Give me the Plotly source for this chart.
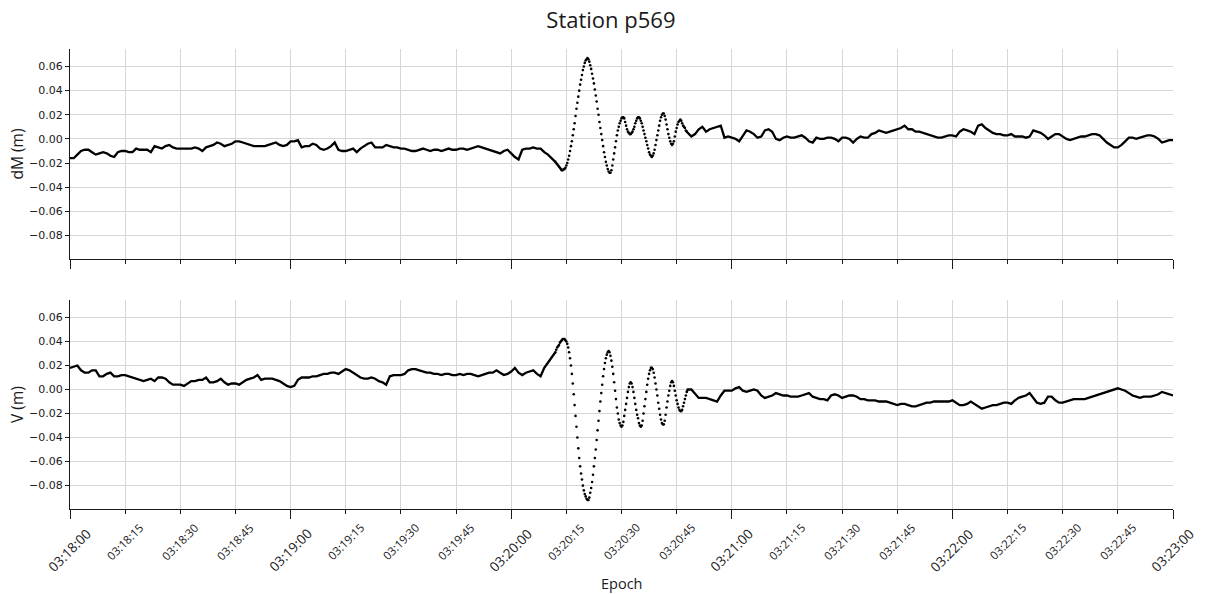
import pandas as pd
import plotly.graph_objects as go

# ---------------- data ----------------
BASE_EPOCH = "2020-01-01 03:18:00"
BEFORE_START_S = 0.0     # 1 s samples
EVENT_START_S = 132.0    # 0.25 s samples during the shaking
EVENT_STEP_S = 0.25
AFTER_START_S = 168.0    # 1 s samples

dm_before = [
    -0.016, -0.016, -0.013, -0.010, -0.009, -0.009, -0.011, -0.013, -0.012, -0.011,
    -0.012, -0.014, -0.015, -0.011, -0.010, -0.010, -0.011, -0.011, -0.008, -0.009,
    -0.009, -0.009, -0.011, -0.006, -0.007, -0.008, -0.006, -0.005, -0.007, -0.008,
    -0.008, -0.008, -0.008, -0.008, -0.007, -0.008, -0.010, -0.007, -0.006, -0.005,
    -0.003, -0.004, -0.006, -0.005, -0.004, -0.002, -0.002, -0.003, -0.004, -0.005,
    -0.006, -0.006, -0.006, -0.006, -0.005, -0.004, -0.003, -0.005, -0.006, -0.005,
    -0.002, -0.002, -0.001, -0.007, -0.006, -0.006, -0.004, -0.005, -0.008, -0.009,
    -0.008, -0.006, -0.003, -0.009, -0.010, -0.010, -0.009, -0.008, -0.011, -0.008,
    -0.006, -0.004, -0.003, -0.007, -0.007, -0.007, -0.005, -0.006, -0.007, -0.007,
    -0.008, -0.008, -0.009, -0.010, -0.010, -0.009, -0.008, -0.009, -0.010, -0.009,
    -0.009, -0.010, -0.009, -0.008, -0.009, -0.009, -0.008, -0.008, -0.009, -0.008,
    -0.007, -0.006, -0.007, -0.008, -0.009, -0.010, -0.011, -0.012, -0.010, -0.009,
    -0.012, -0.015, -0.017, -0.009, -0.008, -0.008, -0.007, -0.008, -0.008, -0.011,
    -0.013, -0.016,
]
dm_event = [
    -0.019, -0.020, -0.021, -0.022, -0.023, -0.024, -0.025, -0.026, -0.026, -0.025,
    -0.025, -0.024, -0.022, -0.020, -0.017, -0.014, -0.010, -0.006, -0.002, 0.003,
    0.008, 0.013, 0.019, 0.025, 0.030, 0.035, 0.040, 0.045, 0.049, 0.053,
    0.057, 0.060, 0.063, 0.065, 0.066, 0.067, 0.066, 0.064, 0.061, 0.058,
    0.054, 0.050, 0.046, 0.041, 0.036, 0.031, 0.025, 0.020, 0.014, 0.009,
    0.004, -0.001, -0.006, -0.011, -0.015, -0.019, -0.022, -0.025, -0.027, -0.028,
    -0.028, -0.026, -0.022, -0.017, -0.012, -0.007, -0.002, 0.003, 0.007, 0.010,
    0.013, 0.015, 0.017, 0.018, 0.018, 0.017, 0.014, 0.011, 0.008, 0.006,
    0.005, 0.004, 0.004, 0.005, 0.006, 0.008, 0.010, 0.013, 0.015, 0.017,
    0.018, 0.018, 0.017, 0.015, 0.013, 0.010, 0.007, 0.004, 0.001, -0.002,
    -0.005, -0.008, -0.011, -0.013, -0.014, -0.015, -0.014, -0.012, -0.009, -0.005,
    -0.001, 0.003, 0.007, 0.011, 0.015, 0.018, 0.020, 0.021, 0.021, 0.019,
    0.016, 0.012, 0.008, 0.004, 0.001, -0.002, -0.004, -0.005, -0.004, -0.002,
    0.002, 0.006, 0.009, 0.012, 0.014, 0.015, 0.016, 0.015, 0.013, 0.011,
    0.010, 0.009, 0.007, 0.006,
]
dm_after = [
    0.005, 0.002, 0.004, 0.008, 0.010, 0.006, 0.008, 0.009, 0.010, 0.011,
    0.001, 0.002, 0.001, 0.000, -0.002, 0.003, 0.007, 0.006, 0.004, 0.001,
    0.002, 0.007, 0.008, 0.006, 0.000, -0.001, 0.001, 0.002, 0.001, 0.001,
    0.002, 0.003, 0.001, -0.002, -0.003, 0.001, 0.000, 0.000, 0.001, 0.001,
    0.000, -0.002, 0.001, 0.001, 0.000, -0.003, 0.000, 0.002, 0.001, 0.001,
    0.004, 0.005, 0.007, 0.006, 0.005, 0.006, 0.007, 0.008, 0.009, 0.011,
    0.008, 0.008, 0.006, 0.006, 0.005, 0.004, 0.003, 0.002, 0.001, 0.001,
    0.002, 0.003, 0.003, 0.002, 0.006, 0.008, 0.007, 0.006, 0.004, 0.011,
    0.012, 0.009, 0.007, 0.005, 0.004, 0.004, 0.003, 0.003, 0.004, 0.002,
    0.002, 0.002, 0.001, 0.002, 0.007, 0.006, 0.005, 0.003, 0.000, 0.002,
    0.004, 0.004, 0.002, 0.000, -0.001, 0.000, 0.001, 0.002, 0.002, 0.003,
    0.004, 0.004, 0.003, 0.000, -0.003, -0.005, -0.007, -0.007, -0.005, -0.002,
    0.001, 0.001, 0.000, 0.001, 0.002, 0.003, 0.003, 0.002, 0.000, -0.003,
    -0.002, -0.001, -0.001,
]

v_before = [
    0.018, 0.019, 0.020, 0.016, 0.014, 0.014, 0.016, 0.016, 0.011, 0.011,
    0.013, 0.014, 0.011, 0.011, 0.012, 0.012, 0.011, 0.010, 0.009, 0.008,
    0.007, 0.008, 0.009, 0.007, 0.010, 0.010, 0.009, 0.006, 0.004, 0.004,
    0.004, 0.003, 0.005, 0.007, 0.007, 0.008, 0.008, 0.010, 0.006, 0.006,
    0.007, 0.009, 0.006, 0.004, 0.005, 0.005, 0.004, 0.006, 0.008, 0.009,
    0.010, 0.012, 0.008, 0.009, 0.009, 0.009, 0.008, 0.007, 0.005, 0.003,
    0.002, 0.003, 0.008, 0.010, 0.010, 0.010, 0.011, 0.011, 0.012, 0.013,
    0.013, 0.014, 0.014, 0.013, 0.015, 0.017, 0.016, 0.014, 0.012, 0.010,
    0.009, 0.009, 0.010, 0.009, 0.007, 0.006, 0.004, 0.011, 0.012, 0.012,
    0.012, 0.013, 0.016, 0.017, 0.017, 0.016, 0.015, 0.014, 0.014, 0.013,
    0.013, 0.012, 0.013, 0.013, 0.012, 0.012, 0.013, 0.012, 0.013, 0.013,
    0.012, 0.011, 0.012, 0.013, 0.014, 0.014, 0.016, 0.014, 0.012, 0.013,
    0.015, 0.018, 0.014, 0.012, 0.014, 0.015, 0.016, 0.013, 0.011, 0.018,
    0.022, 0.027,
]
v_event = [
    0.031, 0.033, 0.035, 0.036, 0.037, 0.039, 0.040, 0.041, 0.042, 0.042,
    0.042, 0.041, 0.040, 0.038, 0.035, 0.031, 0.026, 0.020, 0.013, 0.005,
    -0.004, -0.013, -0.022, -0.031, -0.040, -0.049, -0.057, -0.064, -0.070, -0.075,
    -0.080, -0.084, -0.087, -0.089, -0.091, -0.092, -0.092, -0.090, -0.086, -0.082,
    -0.077, -0.071, -0.064, -0.057, -0.050, -0.042, -0.034, -0.026, -0.018, -0.010,
    -0.003, 0.004, 0.011, 0.017, 0.022, 0.026, 0.029, 0.031, 0.032, 0.031,
    0.028, 0.024, 0.019, 0.013, 0.006, -0.001, -0.008, -0.015, -0.020, -0.025,
    -0.028, -0.030, -0.031, -0.030, -0.027, -0.022, -0.017, -0.012, -0.007, -0.002,
    0.002, 0.005, 0.006, 0.005, 0.002, -0.002, -0.007, -0.012, -0.017, -0.021,
    -0.024, -0.028, -0.030, -0.031, -0.030, -0.026, -0.020, -0.014, -0.008, -0.002,
    0.004, 0.009, 0.013, 0.016, 0.018, 0.018, 0.017, 0.014, 0.010, 0.005,
    0.000, -0.005, -0.011, -0.016, -0.021, -0.025, -0.028, -0.029, -0.029, -0.026,
    -0.021, -0.015, -0.010, -0.005, -0.001, 0.003, 0.006, 0.007, 0.006, 0.003,
    -0.001, -0.005, -0.009, -0.012, -0.015, -0.017, -0.018, -0.018, -0.017, -0.014,
    -0.011, -0.008, -0.005, -0.002,
]
v_after = [
    0.000, 0.000, -0.004, -0.007, -0.007, -0.007, -0.008, -0.009, -0.010, -0.005,
    -0.001, -0.001, -0.001, 0.001, 0.002, -0.001, -0.002, -0.001, 0.000, -0.001,
    -0.005, -0.007, -0.006, -0.005, -0.003, -0.004, -0.005, -0.005, -0.006, -0.006,
    -0.006, -0.005, -0.004, -0.003, -0.006, -0.007, -0.008, -0.008, -0.009, -0.005,
    -0.004, -0.005, -0.007, -0.006, -0.005, -0.005, -0.006, -0.008, -0.008, -0.009,
    -0.009, -0.009, -0.010, -0.010, -0.010, -0.011, -0.012, -0.013, -0.012, -0.012,
    -0.013, -0.014, -0.014, -0.013, -0.012, -0.011, -0.011, -0.010, -0.010, -0.010,
    -0.010, -0.010, -0.009, -0.011, -0.013, -0.013, -0.012, -0.010, -0.012, -0.014,
    -0.016, -0.015, -0.014, -0.013, -0.013, -0.012, -0.011, -0.011, -0.012, -0.009,
    -0.007, -0.006, -0.005, -0.003, -0.007, -0.011, -0.012, -0.011, -0.006, -0.006,
    -0.009, -0.011, -0.011, -0.010, -0.009, -0.008, -0.008, -0.008, -0.008, -0.007,
    -0.006, -0.005, -0.004, -0.003, -0.002, -0.001, 0.000, 0.001, 0.000, -0.001,
    -0.003, -0.005, -0.006, -0.007, -0.006, -0.006, -0.006, -0.005, -0.004, -0.002,
    -0.003, -0.004, -0.005,
]

tick_seconds = [0, 15, 30, 45, 60, 75, 90, 105, 120, 135, 150, 165, 180,
                195, 210, 225, 240, 255, 270, 285, 300]
tick_labels = ["03:18:00", "03:18:15", "03:18:30", "03:18:45", "03:19:00",
               "03:19:15", "03:19:30", "03:19:45", "03:20:00", "03:20:15",
               "03:20:30", "03:20:45", "03:21:00", "03:21:15", "03:21:30",
               "03:21:45", "03:22:00", "03:22:15", "03:22:30", "03:22:45",
               "03:23:00"]
y_ticks = [-0.08, -0.06, -0.04, -0.02, 0.00, 0.02, 0.04, 0.06]
y_tick_labels = ["\u22120.08", "\u22120.06", "\u22120.04", "\u22120.02",
                 "0.00", "0.02", "0.04", "0.06"]
Y_RANGE = [-0.0995, 0.0745]

# ---------------- build ----------------
base = pd.Timestamp(BASE_EPOCH)


def at(sec):
    return base + pd.Timedelta(seconds=float(sec))


def seconds_of(before, event, after):
    return ([BEFORE_START_S + i for i in range(len(before))],
            [EVENT_START_S + EVENT_STEP_S * i for i in range(len(event))],
            [AFTER_START_S + i for i in range(len(after))])


INK = "#1a1a1a"
GRID = "#d6d6d6"
FONT = "DejaVu Sans"
LABEL_FONT = "Open Sans"

fig = go.Figure()
for (b, e, a), xa, ya in [((dm_before, dm_event, dm_after), "x", "y"),
                          ((v_before, v_event, v_after), "x2", "y2")]:
    sb, se, sa = seconds_of(b, e, a)
    # slowly varying parts: densely sampled dots read as a continuous trace
    lx = [at(s) for s in sb] + [at(se[0]), None, at(se[-1])] + [at(s) for s in sa]
    ly = list(b) + [e[0], None, e[-1]] + list(a)
    fig.add_trace(go.Scatter(x=lx, y=ly, mode="lines", xaxis=xa, yaxis=ya,
                             line=dict(color="black", width=2.3),
                             connectgaps=False, showlegend=False, hoverinfo="skip"))
    # shaking part: individual samples
    fig.add_trace(go.Scatter(x=[at(s) for s in se], y=e, mode="markers",
                             xaxis=xa, yaxis=ya,
                             marker=dict(color="black", size=2.6, line=dict(width=0)),
                             showlegend=False, hoverinfo="skip"))

x_range = [at(tick_seconds[0]), at(tick_seconds[-1])]
major = [(s, l) for s, l in zip(tick_seconds, tick_labels) if s % 60 == 0]
minor = [(s, l) for s, l in zip(tick_seconds, tick_labels) if s % 60 != 0]

xbase = dict(type="date", range=x_range, showline=True, linecolor=INK, linewidth=1,
             ticks="outside", ticklen=9, tickwidth=1, tickcolor=INK,
             tickmode="array", tickvals=[at(s) for s, _ in major],
             showticklabels=False, showgrid=True, gridcolor=GRID, gridwidth=1,
             zeroline=False,
             minor=dict(tickmode="array", tickvals=[at(s) for s, _ in minor],
                        ticks="outside", ticklen=4, tickwidth=1, tickcolor=INK,
                        showgrid=True, gridcolor=GRID, gridwidth=1))
ybase = dict(range=Y_RANGE, tickmode="array", tickvals=y_ticks, ticktext=y_tick_labels,
             showline=True, linecolor=INK, linewidth=1, ticks="outside", ticklen=4,
             tickwidth=1, tickcolor=INK, showgrid=True, gridcolor=GRID, gridwidth=1,
             zeroline=False, tickfont=dict(family=FONT, size=11, color=INK))

PLOT_H = 594 - 49 - 85
annotations = []
for s, lab in major:
    annotations.append(dict(text=lab, x=at(s), xref="x2", y=-13 / PLOT_H, yref="paper",
                            xanchor="center", yanchor="top", textangle=-45,
                            showarrow=False,
                            font=dict(family=LABEL_FONT, size=13.5, color=INK)))
for s, lab in minor:
    annotations.append(dict(text=lab, x=at(s), xref="x2", y=-8 / PLOT_H, yref="paper",
                            xanchor="center", yanchor="top", textangle=-45,
                            showarrow=False,
                            font=dict(family=LABEL_FONT, size=11.5, color=INK)))
annotations.append(dict(text="Epoch", xref="paper", yref="paper", x=0.5,
                        y=-74 / PLOT_H, xanchor="center", yanchor="middle",
                        showarrow=False,
                        font=dict(family=LABEL_FONT, size=14.5, color=INK)))

fig.update_layout(
    width=1205, height=594,
    margin=dict(l=70, r=32, t=49, b=85, autoexpand=False),
    paper_bgcolor="white", plot_bgcolor="white",
    font=dict(family=FONT, color=INK),
    title=dict(text="Station p569", x=0.507, xanchor="center", y=0.965,
               yanchor="middle", font=dict(family=LABEL_FONT, size=22, color=INK)),
    xaxis=dict(xbase, anchor="y", domain=[0, 1]),
    xaxis2=dict(xbase, anchor="y2", domain=[0, 1]),
    yaxis=dict(ybase, domain=[0.5435, 1.0], anchor="x",
               title=dict(text="dM (m)", standoff=1,
                          font=dict(family=LABEL_FONT, size=15.5, color=INK))),
    yaxis2=dict(ybase, domain=[0.0, 0.4543], anchor="x2",
                title=dict(text="V (m)", standoff=1,
                           font=dict(family=LABEL_FONT, size=15.5, color=INK))),
    annotations=annotations,
)

fig.write_html("out.html")
